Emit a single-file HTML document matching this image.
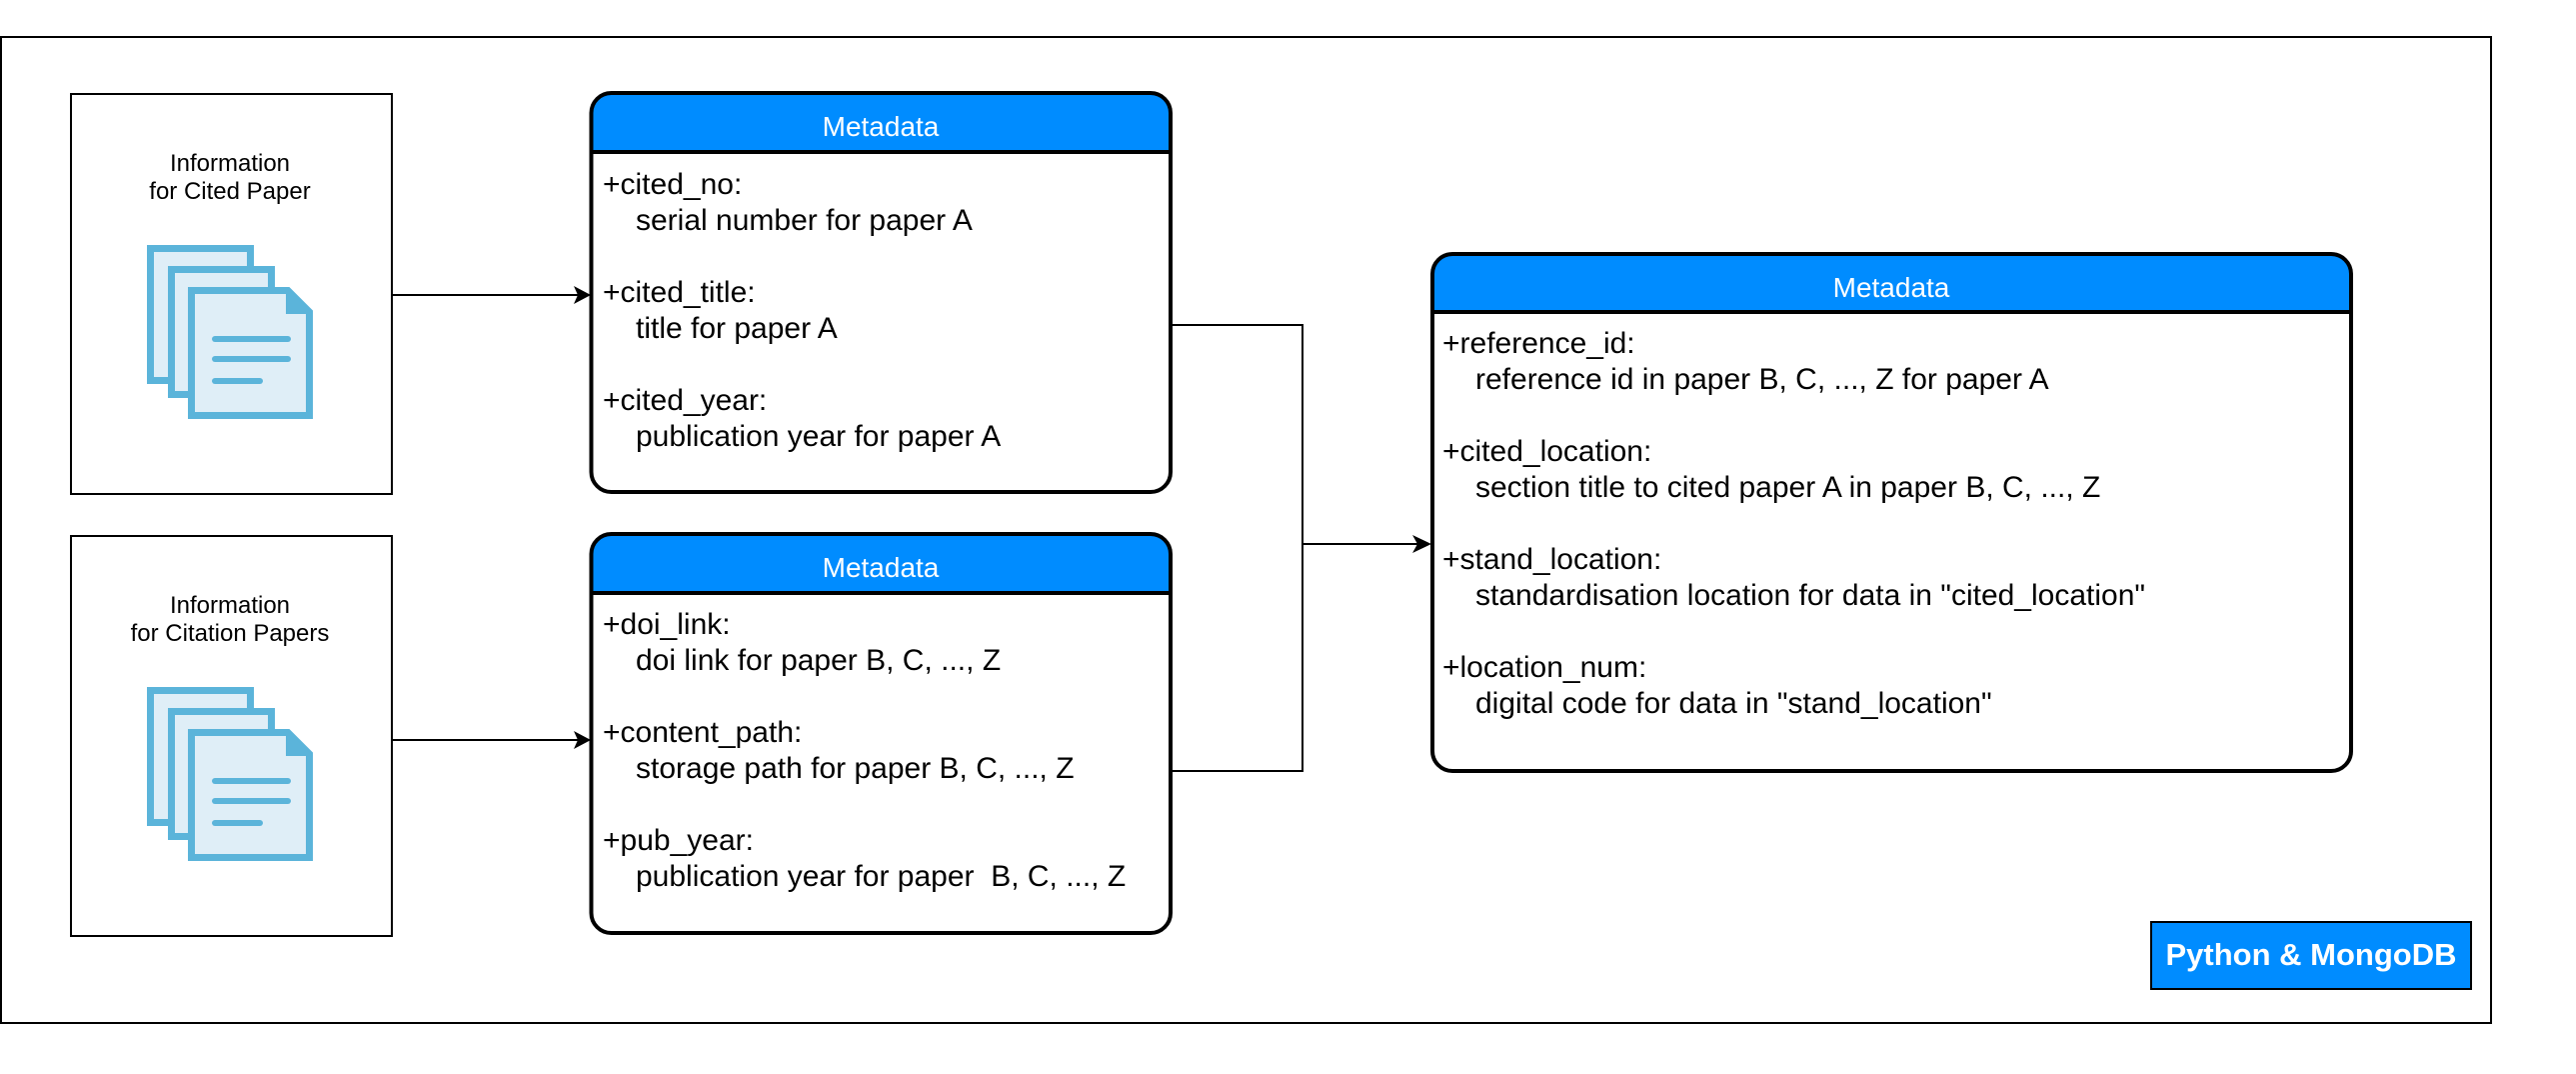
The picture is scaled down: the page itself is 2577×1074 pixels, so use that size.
<!DOCTYPE html>
<html><head><meta charset="utf-8"><style>
html,body{margin:0;padding:0;background:#fff;}
svg{display:block;}
text{font-family:"Liberation Sans",Arial,sans-serif;}
</style></head><body>
<svg width="2577" height="1074" viewBox="0 0 2577 1074" xmlns="http://www.w3.org/2000/svg">
<defs>
<g id="docs">
  <rect x="150.5" y="248.5" width="100" height="132" fill="#DFEEF7" stroke="#5BB4DA" stroke-width="7"/>
  <rect x="171.5" y="269.5" width="100" height="125" fill="#DFEEF7" stroke="#5BB4DA" stroke-width="7"/>
  <path d="M191.5 290.5 H288 L309.5 312 V415.5 H191.5 Z" fill="#DFEEF7" stroke="#5BB4DA" stroke-width="7"/>
  <path d="M286 287 L313 314 H286 Z" fill="#5BB4DA"/>
  <g stroke="#5BB4DA" stroke-width="6" stroke-linecap="round">
    <line x1="215" y1="339" x2="288" y2="339"/>
    <line x1="215" y1="359" x2="288" y2="359"/>
    <line x1="215" y1="381" x2="260" y2="381"/>
  </g>
</g>
</defs>
<rect x="1" y="37" width="2491" height="986" fill="none" stroke="#000" stroke-width="2"/>

<rect x="71" y="94" width="321" height="400" fill="#fff" stroke="#000" stroke-width="2"/>
<text x="230" y="171" font-size="24" text-anchor="middle">Information</text>
<text x="230" y="199" font-size="24" text-anchor="middle">for Cited Paper</text>
<use href="#docs"/>

<rect x="71" y="536" width="321" height="400" fill="#fff" stroke="#000" stroke-width="2"/>
<text x="230" y="613" font-size="24" text-anchor="middle">Information</text>
<text x="230" y="641" font-size="24" text-anchor="middle">for Citation Papers</text>
<use href="#docs" transform="translate(0,442)"/>

<g stroke="#000" stroke-width="2" fill="none">
  <line x1="392" y1="295" x2="580" y2="295"/>
  <line x1="392" y1="740" x2="580" y2="740"/>
  <polyline points="1171,325 1303,325 1303,771 1171,771"/>
  <line x1="1303" y1="544" x2="1420" y2="544"/>
</g>
<path d="M591 295 L574 286 L578 295 L574 304 Z" fill="#000"/>
<path d="M591 740 L574 731 L578 740 L574 749 Z" fill="#000"/>
<path d="M1432 544 L1413 535 L1418 544 L1413 553 Z" fill="#000"/>

<g>
  <path d="M591.5 152 V113 Q591.5 93 611.5 93 H1151 Q1171 93 1171 113 V152 Z" fill="#008CFF"/>
  <rect x="591.5" y="93" width="579.5" height="399" rx="20" fill="none" stroke="#000" stroke-width="4"/>
  <line x1="591.5" y1="152" x2="1171" y2="152" stroke="#000" stroke-width="4"/>
  <text x="881" y="136" font-size="28" fill="#fff" text-anchor="middle">Metadata</text>
  <g font-size="30">
    <text x="603" y="194">+cited_no:</text>
    <text x="636" y="230">serial number for paper A</text>
    <text x="603" y="302">+cited_title:</text>
    <text x="636" y="338">title for paper A</text>
    <text x="603" y="410">+cited_year:</text>
    <text x="636" y="446">publication year for paper A</text>
  </g>
</g>

<g>
  <path d="M591.5 593 V554 Q591.5 534 611.5 534 H1151 Q1171 534 1171 554 V593 Z" fill="#008CFF"/>
  <rect x="591.5" y="534" width="579.5" height="399" rx="20" fill="none" stroke="#000" stroke-width="4"/>
  <line x1="591.5" y1="593" x2="1171" y2="593" stroke="#000" stroke-width="4"/>
  <text x="881" y="577" font-size="28" fill="#fff" text-anchor="middle">Metadata</text>
  <g font-size="30">
    <text x="603" y="634">+doi_link:</text>
    <text x="636" y="670">doi link for paper B, C, ..., Z</text>
    <text x="603" y="742">+content_path:</text>
    <text x="636" y="778">storage path for paper B, C, ..., Z</text>
    <text x="603" y="850">+pub_year:</text>
    <text x="636" y="886" xml:space="preserve">publication year for paper  B, C, ..., Z</text>
  </g>
</g>

<g>
  <path d="M1433 312 V274 Q1433 254 1453 254 H2332 Q2352 254 2352 274 V312 Z" fill="#008CFF"/>
  <rect x="1433" y="254" width="919" height="517" rx="20" fill="none" stroke="#000" stroke-width="4"/>
  <line x1="1433" y1="312" x2="2352" y2="312" stroke="#000" stroke-width="4"/>
  <text x="1892" y="297" font-size="28" fill="#fff" text-anchor="middle">Metadata</text>
  <g font-size="30">
    <text x="1443" y="353">+reference_id:</text>
    <text x="1476" y="389">reference id in paper B, C, ..., Z for paper A</text>
    <text x="1443" y="461">+cited_location:</text>
    <text x="1476" y="497">section title to cited paper A in paper B, C, ..., Z</text>
    <text x="1443" y="569">+stand_location:</text>
    <text x="1476" y="605">standardisation location for data in "cited_location"</text>
    <text x="1443" y="677">+location_num:</text>
    <text x="1476" y="713">digital code for data in "stand_location"</text>
  </g>
</g>

<rect x="2152" y="922" width="320" height="67" fill="#008CFF" stroke="#000" stroke-width="2"/>
<text x="2312" y="965" font-size="31" font-weight="bold" fill="#fff" text-anchor="middle">Python &amp; MongoDB</text>
</svg>
</body></html>
